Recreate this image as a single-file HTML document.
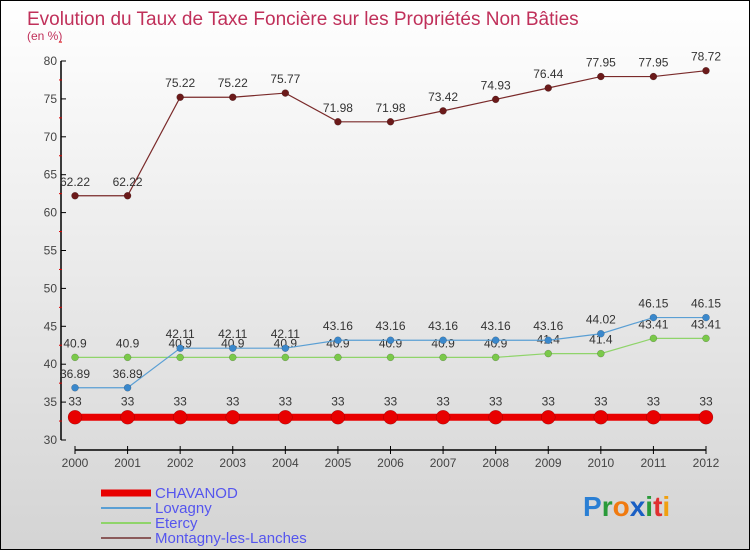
<!DOCTYPE html>
<html><head><meta charset="utf-8"><style>
html,body{margin:0;padding:0}
body{width:750px;height:550px;overflow:hidden;font-family:"Liberation Sans",sans-serif}
#c{position:absolute;left:0;top:0;width:748px;height:548px;border:1px solid #000;background:linear-gradient(#fff,#d4d4d4)}
</style></head><body>
<div id="c">
<svg id="s" width="748" height="548" xmlns="http://www.w3.org/2000/svg"></svg>
</div>
<script>
const years=["2000","2001","2002","2003","2004","2005","2006","2007","2008","2009","2010","2011","2012"];
const chavanod=[33,33,33,33,33,33,33,33,33,33,33,33,33];
const lovagny=[36.89,36.89,42.11,42.11,42.11,43.16,43.16,43.16,43.16,43.16,44.02,46.15,46.15];
const etercy=[40.9,40.9,40.9,40.9,40.9,40.9,40.9,40.9,40.9,41.4,41.4,43.41,43.41];
const montagny=[62.22,62.22,75.22,75.22,75.77,71.98,71.98,73.42,74.93,76.44,77.95,77.95,78.72];
const yTicks=[30,35,40,45,50,55,60,65,70,75,80];
const NS="http://www.w3.org/2000/svg";
const s=document.getElementById('s');
function X(i){return 74+i*(631/12);}
function Y(v){return 439-(v-30)*7.58;}
function el(t,a,p){const e=document.createElementNS(NS,t);for(const k in a)e.setAttribute(k,a[k]);(p||s).appendChild(e);return e;}
function tx(x,y,str,o){const e=el('text',Object.assign({x:x,y:y,'font-family':'Liberation Sans, sans-serif','font-size':12,fill:'#444'},o||{}));e.textContent=str;return e;}
let t=tx(26,24,"Evolution du Taux de Taxe Foncière sur les Propriétés Non Bâties",{'font-size':19,fill:'#c0305a'});

t=tx(26,39,"(en %)",{'font-size':12,fill:'#c0305a'});

let ax=el('line',{x1:60,y1:Y(80),x2:60,y2:Y(30),stroke:'#000','stroke-width':1.5});

yTicks.forEach(v=>{
 let l=el('line',{x1:60,y1:Y(v),x2:65,y2:Y(v),stroke:'#000'});
 
 let m=el('line',{x1:58,y1:Y(v+2.5),x2:61,y2:Y(v+2.5),stroke:'#d00'});
 
 let e=tx(56,Y(v)+4,String(v),{'text-anchor':'end','font-size':12});
 
});
ax=el('line',{x1:X(0),y1:449,x2:X(12),y2:449,stroke:'#000','stroke-width':1.5});

years.forEach((y,i)=>{
 let l=el('line',{x1:X(i),y1:445,x2:X(i),y2:453,stroke:'#000'});
 
 let e=tx(X(i),466,y,{'text-anchor':'middle','font-size':12});
 
});
function series(d,name,color,w,r,dot,labOff){
 const g=el('g',{});
 
 let p=el('polyline',{points:d.map((v,i)=>X(i)+','+Y(v)).join(' '),fill:'none',stroke:color,'stroke-width':w},g);
 
 d.forEach((v,i)=>{
  let c=el('circle',{cx:X(i),cy:Y(v),r:r,fill:dot,stroke:'rgba(0,0,0,0.3)','stroke-width':0.5},g);
  
  let e=tx(X(i),Y(v)+labOff,String(v),{'text-anchor':'middle','font-size':12,fill:'#333'});
  
 });
}
series(montagny,'montagny','#7a2a2a',1.2,3.5,'#6b1a1a',-10);
series(etercy,'etercy','#8fd46a',1.2,3.5,'#7ac94a',-10);
series(lovagny,'lovagny','#5a9fd4',1.2,3.5,'#3a88cc',-10);
series(chavanod,'chavanod','#e80000',7,7,'#e80000',-12);
const leg=[['CHAVANOD','#e80000',7],['Lovagny','#5a9fd4',2],['Etercy','#8fd46a',2],['Montagny-les-Lanches','#8a5a5a',2]];
leg.forEach((L,i)=>{
 const y=492+i*15;
 let l=el('line',{x1:100,y1:y,x2:150,y2:y,stroke:L[1],'stroke-width':L[2]});
 
 let e=tx(154,y+5,L[0],{'font-size':15,fill:'#5555ee'});
 
});
const lg=el('text',{x:582,y:515,'font-size':28,'font-family':'Liberation Sans, sans-serif','font-weight':'bold'});

[['P','#2a7fd4'],['r','#2a9a3a'],['o','#f07a10'],['x','#1a5fc4'],['i','#2a9a3a'],['t','#e03030'],['i','#f0a010']].forEach(a=>{const ts=el('tspan',{fill:a[1]},lg);ts.textContent=a[0];});
</script>
</body></html>
